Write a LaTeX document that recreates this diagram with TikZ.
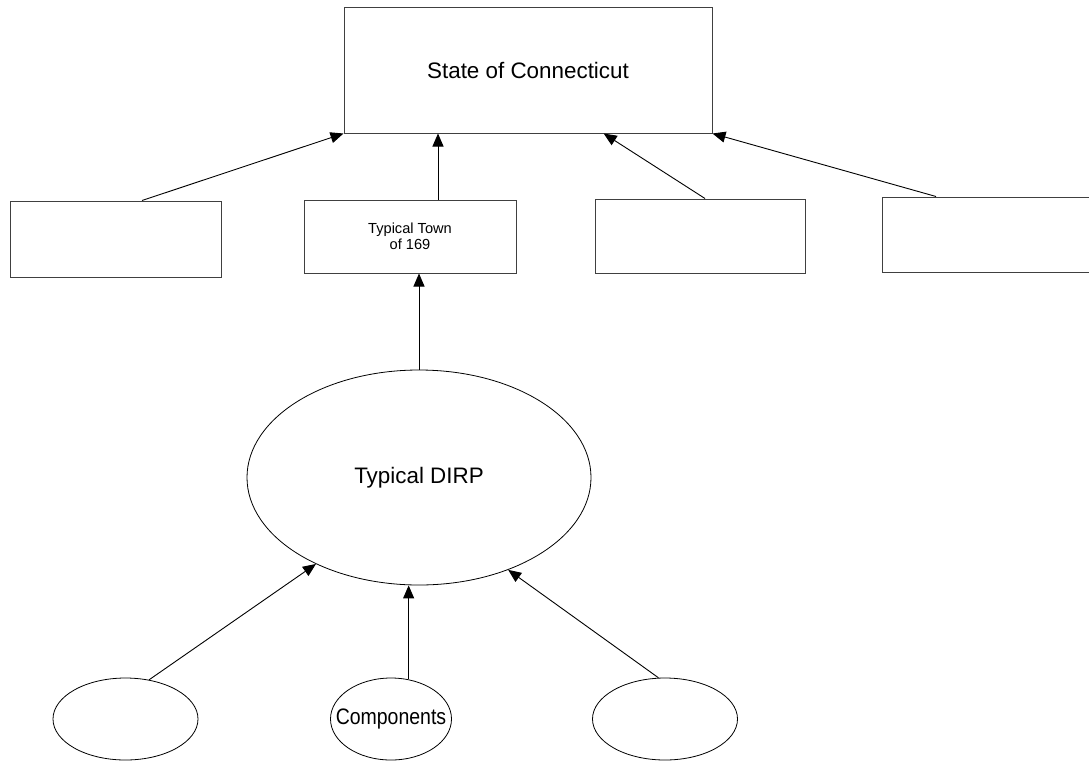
\documentclass[tikz,border=0pt]{standalone}
\usepackage{fontspec}
\usepackage{graphicx}
\setmainfont{Liberation Sans}
\usetikzlibrary{shapes.geometric,arrows.meta}
\begin{document}
\begin{tikzpicture}[x=1pt,y=-1pt,
  box/.style={rectangle,draw=black!75,line width=1pt,inner sep=0},
  oval/.style={ellipse,draw=black,line width=0.8pt,inner sep=0},
  arr/.style={-{Triangle[length=13pt,width=11pt]},line width=0.9pt},
  big/.style={font=\fontsize{22.4}{26}\selectfont}]
  \useasboundingbox (0,0) rectangle (1089,761);
  \node [box,big,minimum width=368pt,minimum height=126pt] (state) at (528,70) {State of Connecticut};
  \node [box,minimum width=211pt,minimum height=76pt] (town1) at (115.5,239) {};
  \node [box,minimum width=212pt,minimum height=73pt,align=center,font=\fontsize{14.6}{16}\selectfont] (town) at (410,236.5) {Typical Town\\of 169};
  \node [box,minimum width=210pt,minimum height=74pt] (town3) at (700,236) {};
  \node [box,minimum width=210pt,minimum height=75pt] (town4) at (987,234.5) {};
  \node [oval,big,minimum width=344pt,minimum height=215pt] (dirp) at (419,477.5) {Typical DIRP};
  \foreach \n/\x/\w/\t in {e1/125.5/145/,e2/391/121/Components,e3/665/145/}{
    \node [oval,big,minimum width=\w pt,minimum height=82pt] (\n) at (\x,719) {\makebox[0pt]{\scalebox{0.87}[1]{\t}}};
  }
  \draw[arr] ([xshift=26.5pt]town1.north) -- (state.south west);
  \draw[arr] ([xshift=28pt]town.north) -- ([xshift=28pt]town.north |- state.south);
  \draw[arr] ([xshift=5pt]town3.north) -- (state.-40);
  \draw[arr] ([xshift=-51pt]town4.north) -- (state.south east);
  \draw[arr] (dirp.north) -- (dirp.north |- town.south);
  \draw[arr] (e1.59) -- (dirp.220);
  \draw[arr] (e2.66.6) -- (e2.66.6 |- dirp.south);
  \draw[arr] (e3.99.5) -- (dirp.-46);
\end{tikzpicture}
\end{document}
